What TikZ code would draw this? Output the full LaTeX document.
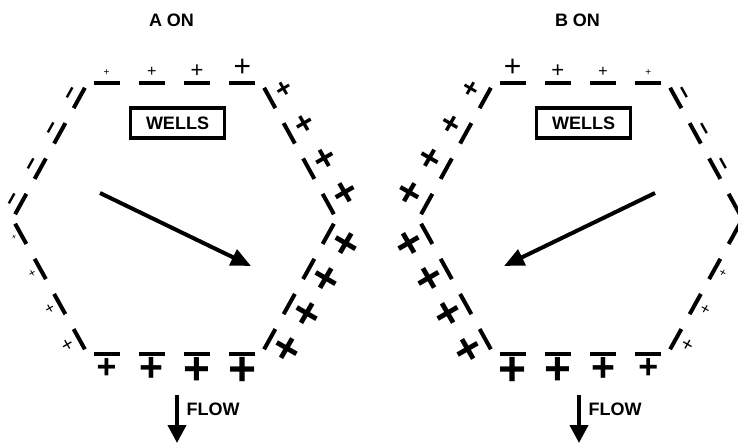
\documentclass[tikz,border=0pt]{standalone}
\usepackage{fontspec}
\setmainfont{Liberation Sans}
\usetikzlibrary{calc,arrows.meta}

\begin{document}
\begin{tikzpicture}[x=1pt,y=-1pt,
    wall/.style={line width=4pt},
    chg/.style={inner sep=0pt,outer sep=0pt},
    lbl/.style={font=\bfseries\fontsize{18}{18}\selectfont,inner sep=0pt},
    bigarr/.style={line width=4pt,-{Triangle[length=20pt,width=17pt]}},
    flowarr/.style={line width=4pt,-{Triangle[length=18pt,width=18pt]}}]
  \useasboundingbox (0,0) rectangle (738,444);
  % A is drawn as it is, B is its mirror image
  \foreach \h/\n/\cx/\s/\o/\fx in {a/A/174.5/1/90/177,b/B/580.5/-1/-90/579}{
    \coordinate (\h1) at ({\cx-87*\s},83);  % top, well side
    \coordinate (\h2) at ({\cx+87*\s},83);
    \coordinate (\h3) at ({\cx+162*\s},219);
    \coordinate (\h4) at ({\cx+87*\s},354); % bottom
    \coordinate (\h5) at ({\cx-87*\s},354);
    \coordinate (\h6) at ({\cx-162*\s},219);
    % four dashes on every side
    \foreach \p/\q in {1/2,2/3,3/4,4/5,5/6,6/1}
      \foreach \t/\u in {0.035/0.185,0.295/0.445,0.555/0.705,0.815/0.965}
        \draw[wall] ($(\h\p)!\t!(\h\q)$) -- ($(\h\p)!\u!(\h\q)$);
    % charges, outside of the sides
    \foreach \t/\f/\d [count=\i] in {0.11/10/10pt,0.37/16/11pt,0.63/22/12pt,0.89/30/15pt}
      \node[chg,font=\fontsize{\f}{\f}\selectfont] (\h top\i)
        at ($(\h1)!\t!(\h2)!\d!\o:(\h2)$) {+};
    \foreach \t/\f/\d [count=\i] in {0.11/27/17pt,0.37/32/18pt,0.63/37/19pt,0.89/41/20pt}
      \node[chg,rotate=\s*30,font=\bfseries\fontsize{\f}{\f}\selectfont] (\h ur\i)
        at ($(\h2)!\t!(\h3)!\d!\o:(\h3)$) {+};
    \foreach \t [count=\i] in {0.11,0.37,0.63,0.89}
      \node[chg,rotate=\s*60,font=\bfseries\fontsize{45}{45}\selectfont] (\h lr\i)
        at ($(\h3)!\t!(\h4)!22pt!\o:(\h4)$) {+};
    \foreach \t/\f/\d [count=\i] in {0.11/48/17pt,0.37/46/17pt,0.63/41/15.5pt,0.89/34/14.5pt}
      \node[chg,font=\bfseries\fontsize{\f}{\f}\selectfont] (\h bot\i)
        at ($(\h4)!\t!(\h5)!\d!\o:(\h5)$) {+};
    \foreach \t/\f/\d [count=\i] in {0.11/20/13pt,0.37/16/11pt,0.63/12/9pt,0.89/8/7.5pt}
      \node[chg,rotate=\s*30,font=\fontsize{\f}{\f}\selectfont] (\h ll\i)
        at ($(\h5)!\t!(\h6)!\d!\o:(\h6)$) {+};
    \foreach \t [count=\i] in {0.11,0.37,0.63,0.89}
      \node[chg,rotate=\s*60.8,font=\bfseries\fontsize{23}{23}\selectfont] (\h ul\i)
        at ($(\h6)!\t!(\h1)!7pt!\o:(\h1)$) {−};
    % labels
    \node[lbl,anchor=base] (\h title) at ({\cx-3},27) {\n\ ON};
    \node[lbl,draw,line width=3.5pt,minimum width=94pt,minimum height=30pt]
      (\h wells) at ({\cx+3},123) {WELLS};
    % flow inside and out of the pattern
    \coordinate (\h s) at ({\cx-74.5*\s},193);
    \coordinate (\h e) at ({\cx+76.5*\s},266);
    \draw[bigarr] (\h s) -- (\h e);
    \coordinate (\h ft) at (\fx,395);
    \coordinate (\h fb) at (\fx,443);
    \draw[flowarr] (\h ft) -- (\h fb);
    \node[lbl,anchor=base west] (\h flow) at ({\fx+9.5},415) {FLOW};
  }
\end{tikzpicture}
\end{document}
